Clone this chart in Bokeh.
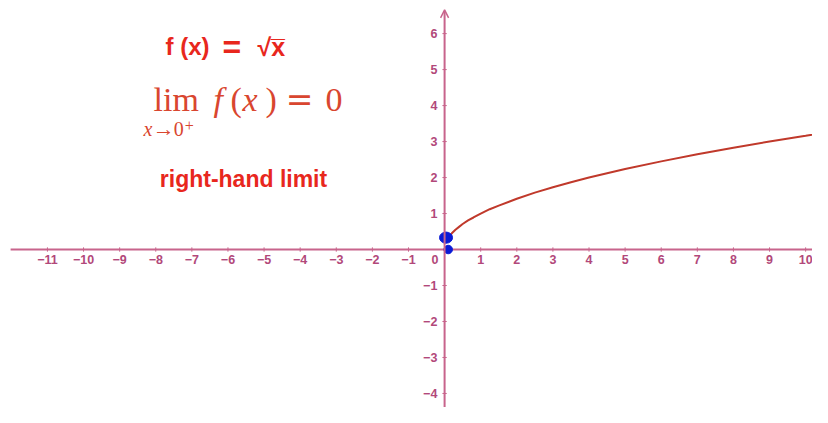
from bokeh.plotting import figure
from bokeh.models import Range1d, Arrow, OpenHead
from bokeh.core.properties import value
from bokeh.embed import file_html
from bokeh.resources import INLINE

# ---- data ----
x_ticks = [-11, -10, -9, -8, -7, -6, -5, -4, -3, -2, -1, 1, 2, 3, 4, 5, 6, 7, 8, 9, 10]
x_tick_labels = ["−11", "−10", "−9", "−8", "−7", "−6", "−5", "−4", "−3", "−2", "−1",
                 "1", "2", "3", "4", "5", "6", "7", "8", "9", "10"]
y_ticks = [-4, -3, -2, -1, 1, 2, 3, 4, 5, 6]
y_tick_labels = ["−4", "−3", "−2", "−1", "1", "2", "3", "4", "5", "6"]

curve_x = [0.11, 0.15, 0.2, 0.3, 0.4, 0.5, 0.65, 0.8, 1.0, 1.25, 1.5, 2.0, 2.5, 3.0,
           3.5, 4.0, 5.0, 6.0, 7.0, 8.0, 9.0, 10.0, 10.6]
curve_y = [0.33, 0.39, 0.45, 0.55, 0.63, 0.71, 0.81, 0.89, 1.0, 1.12, 1.22, 1.41, 1.58, 1.73,
           1.87, 2.0, 2.24, 2.45, 2.65, 2.83, 3.0, 3.16, 3.26]

big_point_x = [0.04]
big_point_y = [0.33]
small_point_x = [0.1]
small_point_y = [0.0]

title_parts = ["f (x)", "=", "√x̅"]
lim_text = ["lim"]
note_text = ["right-hand limit"]

# ---- styles ----
AXIS = "#c8648c"
LABEL = "#b2487a"
CURVE = "#c0392b"
RED = "#e8271d"
LIMRED = "#d9462f"
BLUE = "#0a1ad6"
SERIF = value("Liberation Serif")
SANS = value("Liberation Sans")

p = figure(width=812, height=407, output_backend="svg", toolbar_location=None,
           x_range=Range1d(-12.30, 10.19), y_range=Range1d(-4.39, 6.92),
           min_border=0)
p.axis.visible = False
p.grid.visible = False
p.outline_line_color = None
p.background_fill_color = "white"
p.border_fill_color = "white"

# axes
p.segment(x0=[-12.02], y0=[0], x1=[10.19], y1=[0], line_color=AXIS, line_width=2)
p.add_layout(Arrow(end=OpenHead(size=8, line_color=AXIS, line_width=1.5),
                   x_start=0, y_start=-4.39, x_end=0, y_end=6.66,
                   line_color=AXIS, line_width=2))

# tick marks
p.segment(x0=x_ticks, y0=[-0.06] * len(x_ticks), x1=x_ticks, y1=[0.06] * len(x_ticks),
          line_color=AXIS, line_width=1)
p.segment(x0=[-0.06] * len(y_ticks), y0=y_ticks, x1=[0.06] * len(y_ticks), y1=y_ticks,
          line_color=AXIS, line_width=1)

# tick labels
p.text(x=x_ticks, y=[-0.28] * len(x_ticks), text=x_tick_labels, text_align="center",
       text_baseline="middle", text_font=SANS, text_font_style="bold",
       text_font_size="12.5px", text_color=LABEL)
p.text(x=[-0.2] * len(y_ticks), y=y_ticks, text=y_tick_labels, text_align="right",
       text_baseline="middle", text_font=SANS, text_font_style="bold",
       text_font_size="12.5px", text_color=LABEL)
p.text(x=[-0.17], y=[-0.28], text=["0"], text_align="right", text_baseline="middle",
       text_font=SANS, text_font_style="bold", text_font_size="12.5px", text_color=LABEL)

# curve and points
p.line(curve_x, curve_y, line_color=CURVE, line_width=2)
p.ellipse(x=big_point_x, y=big_point_y, width=0.36, height=0.31, fill_color=BLUE,
          line_color=BLUE)
p.scatter(small_point_x, small_point_y, size=8.5, fill_color=BLUE, line_color=BLUE)

# title f(x) = sqrt(x)
p.text(x=[-7.73], y=[5.64], text=title_parts[:1], text_align="left",
       text_baseline="alphabetic", text_font=SANS, text_font_style="bold",
       text_font_size="24px", text_color=RED)
p.text(x=[-6.15], y=[5.64], text=title_parts[1:2], text_align="left",
       text_baseline="alphabetic", text_font=SANS, text_font_style="bold",
       text_font_size="32px", text_color=RED)
p.text(x=[-5.18], y=[5.64], text=title_parts[2:], text_align="left",
       text_baseline="alphabetic", text_font=SANS, text_font_style="bold",
       text_font_size="25px", text_color=RED)

# lim expression
LY = 4.16
p.text(x=[-8.06], y=[LY], text=lim_text, text_align="left", text_baseline="alphabetic",
       text_font=SERIF, text_font_size="34px", text_color=LIMRED)
p.text(x=[-6.40, -5.60], y=[LY, LY], text=["f", "x"], text_align="left",
       text_baseline="alphabetic", text_font=SERIF, text_font_style="italic",
       text_font_size="34px", text_color=LIMRED)
p.text(x=[-5.93, -4.96, -3.30], y=[LY] * 3, text=["(", ")", "0"],
       text_align="left", text_baseline="alphabetic", text_font=SERIF,
       text_font_size="34px", text_color=LIMRED)
p.text(x=[-4.40], y=[LY], text=["="], text_align="left", text_baseline="alphabetic",
       text_font=value("DejaVu Serif"), text_font_size="33px", text_color=LIMRED)
# subscript x→0+
SY = 3.36
p.text(x=[-8.34], y=[SY], text=["x"], text_align="left", text_baseline="alphabetic",
       text_font=SERIF, text_font_style="italic", text_font_size="20px", text_color=LIMRED)
p.text(x=[-8.08], y=[SY], text=["→"], text_align="left", text_baseline="alphabetic",
       text_font=SERIF, text_font_size="22px", text_color=LIMRED)
p.text(x=[-7.50], y=[SY], text=["0"], text_align="left", text_baseline="alphabetic",
       text_font=SERIF, text_font_size="20px", text_color=LIMRED)
p.text(x=[-7.20], y=[3.46], text=["+"], text_align="left", text_baseline="middle",
       text_font=SERIF, text_font_size="16px", text_color=LIMRED)

p.text(x=[-5.57], y=[1.97], text=note_text, text_align="center", text_baseline="middle",
       text_font=SANS, text_font_style="bold", text_font_size="23px", text_color=RED)

open("out.html", "w").write(file_html(p, INLINE))
